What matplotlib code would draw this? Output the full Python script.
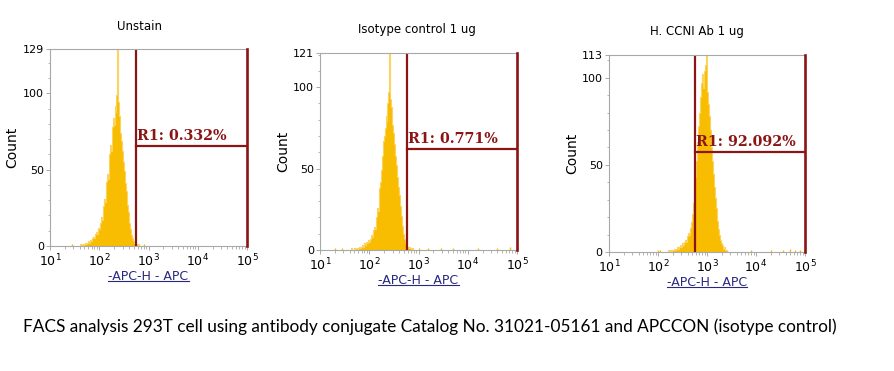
import numpy as np
import matplotlib
matplotlib.use('Agg')
import matplotlib.pyplot as plt
from matplotlib.lines import Line2D
from matplotlib.ticker import FixedLocator, MultipleLocator, LogLocator, NullFormatter

## FACS histograms: three APC panels with R1 gate

titles = ['Unstain', 'Isotype control 1 ug', 'H. CCNI Ab 1 ug']
gate_labels = ['R1: 0.332%', 'R1: 0.771%', 'R1: 92.092%']
gate_low = [557, 583, 569]          # left edge of R1 gate (APC-H)
gate_level = [65.5, 62.0, 57.4]     # height of the gate bar (count)
y_max = [129, 121, 113]
caption = ('FACS analysis 293T cell using antibody conjugate Catalog No. '
           '31021-05161 and APCCON (isotype control)')

# histogram counts, bins every 0.02 decade starting at log10 value hist_start
hist_start = [1.60, 1.60, 2.20]
hist_step = 0.02
unstain_counts = [0, 1, 0, 1, 0, 1, 2, 1, 2, 3, 2, 4, 3, 5, 6, 5, 8, 9, 8, 12,
                  11, 15, 19, 17, 26, 31, 29, 42, 47, 44, 60, 66, 62, 78, 84, 79,
                  92, 88, 99, 129, 94, 85, 74, 69, 62, 55, 49, 41, 36, 27, 22, 15,
                  11, 7, 5, 3, 2, 1, 1, 0, 1, 0, 0]
isotype_counts = [0, 0, 1, 0, 0, 1, 0, 1, 0, 1, 2, 1, 2, 3, 2, 4, 3, 5, 4, 6,
                  5, 7, 9, 8, 12, 14, 13, 20, 26, 24, 38, 42, 49, 58, 67, 70, 75,
                  82, 79, 90, 97, 121, 93, 88, 77, 72, 65, 58, 52, 45, 39, 34, 27,
                  21, 15, 10, 7, 4, 3, 2, 1, 2, 1, 0, 1, 0]
ccni_counts = [0, 1, 0, 1, 0, 1, 1, 2, 1, 2, 3, 2, 3, 4, 3, 5, 4, 6, 7, 6,
               9, 11, 10, 14, 17, 22, 28, 36, 43, 52, 63, 72, 80, 89, 97, 102,
               94, 104, 107, 113, 104, 92, 85, 78, 70, 60, 52, 45, 37, 31, 25,
               18, 13, 10, 7, 5, 4, 2, 3, 1, 1, 0]

# sparse single events far from the peak (log10 position, count)
unstain_events_log = [1.45, 2.9]
unstain_events = [1, 1]
isotype_events_log = [1.3, 1.45, 3.0, 3.2, 3.45, 3.7, 4.2, 4.6, 4.85]
isotype_events = [1, 1, 1, 1, 1, 1, 1, 1, 2]
ccni_events_log = [2.0, 2.05, 3.9, 4.3, 4.55, 4.7, 4.8, 4.9]
ccni_events = [1, 1, 1, 1, 1, 2, 1, 1]

counts = [unstain_counts, isotype_counts, ccni_counts]
events_log = [unstain_events_log, isotype_events_log, ccni_events_log]
events = [unstain_events, isotype_events, ccni_events]

W, H = 894, 371
# axes boxes in pixels: left, top, width, height
boxes = [(50, 49, 197, 197), (320, 53, 197, 197), (609, 55, 196, 197)]
title_pos = [(140, 27), (417, 30), (697, 32)]

fill_col = '#F8BC00'
edge_col = '#FBD35E'
gate_col = '#8B1414'
frame_col = '#A8A8A8'
label_col = '#27287F'


def main():
    fig = plt.figure(figsize=(W / 100, H / 100), dpi=100)
    xlabels = []
    for k in range(3):
        l, t, w, h = boxes[k]
        ax = fig.add_axes([l / W, 1 - (t + h) / H, w / W, h / H])
        x = 10 ** (hist_start[k] + hist_step * np.arange(len(counts[k])))
        y = np.array(counts[k])
        ax.fill_between(x, y, step='mid', color=fill_col, lw=0)
        ax.plot(x, y, drawstyle='steps-mid', color=edge_col, lw=0.8)
        ax.vlines(10 ** np.array(events_log[k]), 0, events[k], color=fill_col, lw=1)

        ax.set_xscale('log')
        ax.set_xlim(10, 1e5)
        ax.set_ylim(0, y_max[k])

        # R1 gate
        right = 1e5 * 0.985
        ax.plot([gate_low[k], gate_low[k]], [0, y_max[k]], color=gate_col, lw=1.6)
        ax.plot([right, right], [0, y_max[k]], color=gate_col, lw=1.9,
                clip_on=False, zorder=4)
        ax.plot([gate_low[k], right], [gate_level[k], gate_level[k]],
                color=gate_col, lw=1.6)
        ax.annotate(gate_labels[k], (gate_low[k], gate_level[k]),
                    xytext=(1, 2), textcoords='offset points',
                    ha='left', va='bottom', color=gate_col,
                    family='DejaVu Serif', weight='bold', fontsize=10.3)

        for s in ax.spines.values():
            s.set_color(frame_col)
            s.set_linewidth(0.8)
        ax.yaxis.set_major_locator(FixedLocator([0, 50, 100, y_max[k]]))
        ax.yaxis.set_minor_locator(MultipleLocator(10))
        ax.xaxis.set_major_locator(LogLocator(base=10))
        ax.xaxis.set_minor_locator(LogLocator(base=10, subs=np.arange(2, 10)))
        ax.xaxis.set_minor_formatter(NullFormatter())
        ax.tick_params(which='major', length=3, width=0.7, color=frame_col,
                       labelsize=8, pad=1.5)
        ax.tick_params(which='minor', length=1.8, width=0.6, color=frame_col)
        ax.set_xticks([1e1, 1e2, 1e3, 1e4, 1e5])
        ax.set_xticklabels([r'$10^{%d}$' % e for e in range(1, 6)], fontsize=9)
        ax.set_ylabel('Count', fontsize=10, labelpad=2)

        fig.text(title_pos[k][0] / W, 1 - title_pos[k][1] / H, titles[k],
                 ha='center', va='center', fontsize=8.5)
        tx = fig.text((l + w / 2) / W, 1 - (t + h + 30) / H, '-APC-H - APC',
                      ha='center', va='center', fontsize=9, color=label_col)
        xlabels.append(tx)

    fig.text(430 / W, 1 - 327 / H, caption, ha='center', va='center',
             family='Lato', fontsize=12.4)

    # underline the x axis labels
    fig.canvas.draw()
    r = fig.canvas.get_renderer()
    for tx in xlabels:
        bb = tx.get_window_extent(r)
        yl = (bb.y0 + 2) / H
        fig.add_artist(Line2D([bb.x0 / W, bb.x1 / W], [yl, yl],
                              color=label_col, lw=0.8))

    fig.savefig('out.png', dpi=100)


if __name__ == "__main__":
    main()
